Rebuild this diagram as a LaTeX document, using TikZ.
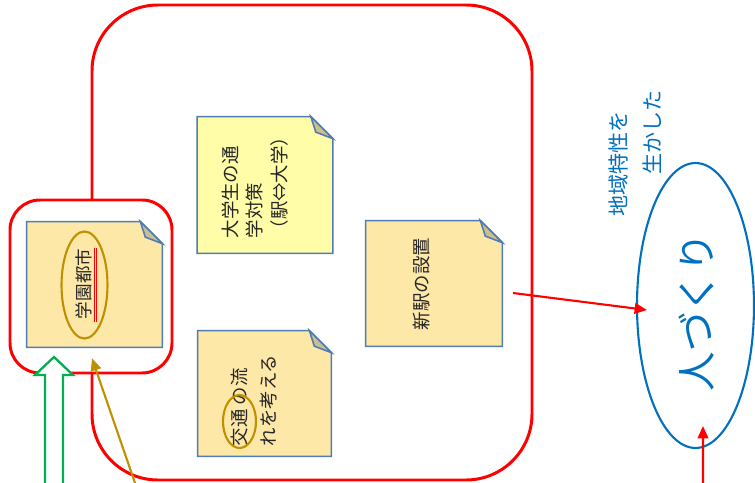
\documentclass[tikz,border=0pt]{standalone}
\usepackage{fontspec}
\setmainfont{Noto Sans CJK JP}
\usepackage{xcolor}
\usetikzlibrary{arrows.meta,shapes.geometric}
\definecolor{frameRed}{HTML}{FF0000}
\definecolor{noteBlue}{HTML}{4F7DB3}
\definecolor{noteOrange}{HTML}{FDE8A8}
\definecolor{noteYellow}{HTML}{FFFDA8}
\definecolor{foldTan}{HTML}{CDBE8E}
\definecolor{noteInk}{HTML}{262626}
\definecolor{ringGold}{HTML}{BF9000}
\definecolor{hitoBlue}{HTML}{0070C0}
\definecolor{arrowGreen}{HTML}{00B050}
% sticky note with a folded top right corner, drawn round an empty node
\newcommand{\dogear}[2]{%
  \filldraw[noteline, fill=#2] (#1.south west) -- (#1.north west) -- ([xshift=-0.44cm]#1.north east)
    -- ([yshift=-0.44cm]#1.north east) -- (#1.south east) -- cycle;
  \filldraw[noteline, fill=foldTan] ([xshift=-0.44cm]#1.north east) -- ([yshift=-0.44cm]#1.north east)
    -- ([xshift=-0.34cm,yshift=-0.31cm]#1.north east) -- cycle;
}

\begin{document}
\begin{tikzpicture}[x=0.02cm, y=-0.02cm,
  noteline/.style={draw=noteBlue, line width=0.9pt},
  notebox/.style={rectangle, minimum width=2.7cm, minimum height=2.5cm, inner sep=0pt},
  notetext/.style={rotate=90, align=left, text=noteInk, inner sep=0pt, font=\fontsize{10.5}{14}\selectfont},
  goldring/.style={ellipse, draw=ringGold, line width=1.2pt, inner sep=0pt},
  redarrow/.style={draw=frameRed, line width=1.2pt, -{Triangle[length=7pt,width=6pt]}},
  goldarrow/.style={draw=ringGold, line width=1.2pt, -{Triangle[length=7pt,width=6pt]}},
  greenblock/.style={draw=arrowGreen, line width=1.3pt, fill=white, line join=miter}]
\useasboundingbox (0,0) rectangle (755,483);
% ---------- red frames ----------
\draw[frameRed, line width=1.7pt, rounded corners=1.32cm] (92,5) rectangle (532,480);
\draw[frameRed, line width=1.7pt, fill=white, rounded corners=0.6cm] (10,200) rectangle (172,373);
% ---------- notes ----------
\node[notebox] (gakuen) at (94.5,284.5) {};
\node[notebox, minimum height=2.72cm] (tsugaku) at (265,185) {};
\node[notebox, minimum width=2.66cm] (koutsu) at (264.5,393.5) {};
\node[notebox, minimum width=2.72cm] (shineki) at (434,283.5) {};
\dogear{gakuen}{noteOrange}
\dogear{tsugaku}{noteYellow}
\dogear{koutsu}{noteOrange}
\dogear{shineki}{noteOrange}
% ---------- note texts ----------
\node[notetext, font=\fontsize{10}{14}\selectfont] (gakuenTxt) at (84,284) {学園都市};
\node[goldring, minimum width=0.92cm, minimum height=2.14cm] (gakuenRing) at (84.5,285) {};
\draw[frameRed, line width=0.5pt] (94.5,248) -- (94.5,322) (96.8,248) -- (96.8,322);
\node[notetext] (tsugakuTxt) at (255,183) {大学生の通\\学対策\\（駅⇔大学）};
\node[notetext, font=\fontsize{10.5}{17}\selectfont] (koutsuTxt) at (254,400.5) {交通 の流\\れを考える};
\node[goldring, minimum width=0.66cm, minimum height=1.06cm] (koutsuRing) at (239.5,421.5) {};
\node[notetext] (shinekiTxt) at (422,284) {新駅の設置};
% ---------- goal ----------
\node[ellipse, draw=hitoBlue, line width=1.2pt, minimum width=2.34cm, minimum height=5.7cm] (hito) at (695.5,305.5) {};
\node[rotate=90, text=hitoBlue, font=\fontsize{22.5}{27}\selectfont] (hitoTxt) at (697,312) {人づくり};
\node[rotate=90, align=left, text=hitoBlue, font=\fontsize{12}{19.3}\selectfont] (chiikiTxt) at (635,153.5) {地域特性を\\\hspace*{2em}生かした};
% ---------- arrows ----------
\coordinate (ekiOut) at (513,293);
\draw[redarrow] (ekiOut) -- ([xshift=0.22cm,yshift=-0.09cm]hito.west);
\coordinate (hitoIn) at (703,483);
\draw[redarrow] (hitoIn) -- ([xshift=0.15cm,yshift=0.46cm]hito.south);
\coordinate (goldIn) at (135,483);
\draw[goldarrow] (goldIn) -- ([xshift=-0.05cm,yshift=-0.22cm]gakuen.south);
\coordinate (greenIn) at (54,483);
\draw[greenblock] (greenIn) ++(-9,0) -- ++(0,-108) -- ++(-10,0) -- ++(19,-18) -- ++(19,18) -- ++(-10,0) -- ++(0,108);
\end{tikzpicture}
\end{document}
